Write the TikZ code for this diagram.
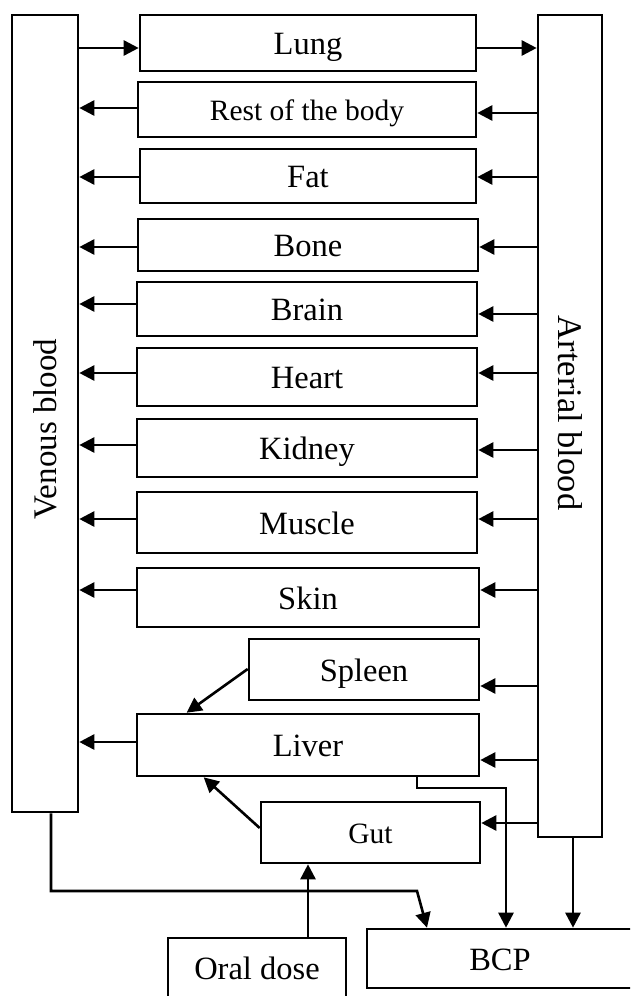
\documentclass[tikz,border=0pt]{standalone}
\usepackage{fontspec}
\setmainfont{Liberation Serif}
\usetikzlibrary{arrows.meta}
\begin{document}
\begin{tikzpicture}[x=1pt,y=-1pt,line width=2.6pt,
  box/.style={draw,rectangle,inner sep=0pt,text height=25pt,text depth=2pt,font=\fontsize{32.5}{38}\selectfont},
  smallbox/.style={box,text height=23pt,font=\fontsize{29.5}{34}\selectfont},
  lbl/.style={inner sep=0pt,font=\fontsize{33}{38}\selectfont},
  arr/.style={-{Triangle[length=15pt,width=15pt]}},
  ln/.style={line join=miter}]
\useasboundingbox (0,0) rectangle (630,996);
\clip (0,0) rectangle (630,996);
% blood compartments
\node[draw,rectangle,minimum width=66pt,minimum height=797pt] (ven) at (45,413.5) {};
\node[lbl,rotate=90] (venlbl) at (45,429) {Venous blood};
\node[draw,rectangle,minimum width=64pt,minimum height=822pt] (art) at (570,426) {};
\node[lbl,font=\fontsize{34.5}{40}\selectfont,rotate=-90] (artlbl) at (570,413) {Arterial blood};
% organ boxes
\node[box,minimum width=336pt,minimum height=56pt] (lung) at (308,43) {Lung};
\node[smallbox,minimum width=338pt,minimum height=55pt] (rest) at (307,109.5) {Rest of the body};
\node[box,minimum width=336pt,minimum height=54pt] (fat) at (308,176) {Fat};
\node[box,minimum width=340pt,minimum height=52pt] (bone) at (308,245) {Bone};
\node[box,minimum width=340pt,minimum height=54pt] (brain) at (307,309) {Brain};
\node[box,minimum width=340pt,minimum height=58pt] (heart) at (307,377) {Heart};
\node[box,minimum width=340pt,minimum height=58pt] (kidney) at (307,448) {Kidney};
\node[box,minimum width=340pt,minimum height=61pt] (muscle) at (307,522.5) {Muscle};
\node[box,minimum width=342pt,minimum height=59pt] (skin) at (308,597.5) {Skin};
\node[box,minimum width=230pt,minimum height=61pt] (spleen) at (364,669.5) {Spleen};
\node[box,minimum width=342pt,minimum height=62pt] (liver) at (308,745) {Liver};
\node[smallbox,minimum width=219pt,minimum height=61pt] (gut) at (370.5,832.5) {Gut};
\node[box,minimum width=178pt,minimum height=60pt] (oral) at (257,968) {Oral dose};
\node[box,minimum width=266pt,minimum height=59pt] (bcp) at (500,958.5) {BCP};
% venous -> lung -> arterial
\draw[arr] (ven.east |- 0,48) -- (lung.west |- 0,48);
\draw[arr] (lung.east |- 0,48) -- (art.west |- 0,48);
% organs -> venous
\draw[arr] (rest.west |- 0,108) -- (ven.east |- 0,108);
\draw[arr] (fat.west |- 0,177) -- (ven.east |- 0,177);
\draw[arr] (bone.west |- 0,247) -- (ven.east |- 0,247);
\draw[arr] (brain.west |- 0,304) -- (ven.east |- 0,304);
\draw[arr] (heart.west |- 0,373) -- (ven.east |- 0,373);
\draw[arr] (kidney.west |- 0,445) -- (ven.east |- 0,445);
\draw[arr] (muscle.west |- 0,519) -- (ven.east |- 0,519);
\draw[arr] (skin.west |- 0,590) -- (ven.east |- 0,590);
\draw[arr] (liver.west |- 0,742) -- (ven.east |- 0,742);
% arterial -> organs
\draw[arr] (art.west |- 0,113) -- (rest.east |- 0,113);
\draw[arr] (art.west |- 0,177) -- (fat.east |- 0,177);
\draw[arr] (art.west |- 0,247) -- (bone.east |- 0,247);
\draw[arr] (art.west |- 0,314) -- (brain.east |- 0,314);
\draw[arr] (art.west |- 0,373) -- (heart.east |- 0,373);
\draw[arr] (art.west |- 0,450) -- (kidney.east |- 0,450);
\draw[arr] (art.west |- 0,519) -- (muscle.east |- 0,519);
\draw[arr] (art.west |- 0,590) -- (skin.east |- 0,590);
\draw[arr] (art.west |- 0,686) -- (spleen.east |- 0,686);
\draw[arr] (art.west |- 0,760) -- (liver.east |- 0,760);
\draw[arr] (art.west |- 0,823) -- (gut.east |- 0,823);
% spleen and gut -> liver
\draw[arr] (spleen.west |- 0,669) -- ([xshift=51pt]liver.north west);
\draw[arr] (gut.west |- 0,828) -- ([xshift=68pt]liver.south west);
% oral dose -> gut
\draw[arr] (oral.north -| 308,0) -- (gut.south -| 308,0);
% to BCP
\coordinate (lb1) at (417,788);
\coordinate (lb2) at (506,788);
\draw[arr,ln] (liver.south -| lb1) -- (lb1) -- (lb2) -- (bcp.north -| lb2);
\draw[arr] (art.south -| 573,0) -- (bcp.north -| 573,0);
\coordinate (vb1) at (51,891);
\coordinate (vb2) at (417,891);
\draw[arr,ln] (ven.south -| vb1) -- (vb1) -- (vb2) -- (bcp.north -| 427,0);
\end{tikzpicture}
\end{document}
